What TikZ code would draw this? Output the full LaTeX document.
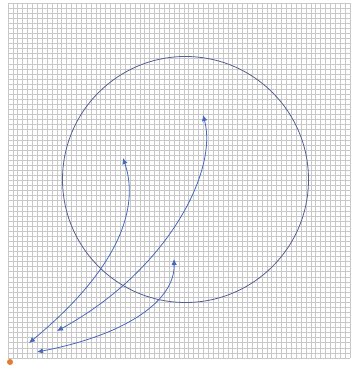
\documentclass[tikz,border=0pt]{standalone}
\usetikzlibrary{arrows.meta}
\definecolor{gridc}{RGB}{200,200,200}
\definecolor{arrc}{RGB}{70,105,190}
\definecolor{circc}{RGB}{85,95,150}
\definecolor{dotc}{RGB}{225,125,50}
\begin{document}
\begin{tikzpicture}[x=1pt,y=1pt,
  gridline/.style={draw=gridc,line width=0.7pt},
  curvearrow/.style={draw=arrc,line width=0.8pt,{Latex[length=6pt,width=5.5pt]}-{Latex[length=6pt,width=5.5pt]}},
  bigcircle/.style={draw=circc,line width=0.8pt}]
\useasboundingbox (0,0) rectangle (352,369);
\fill[white] (0,0) rectangle (352,369);
\foreach \i in {0,...,70} {
  \draw[gridline] ({8+\i*4.8857},11) -- ({8+\i*4.8857},366);
  \draw[gridline] (8,{11+\i*5.0714}) -- (350,{11+\i*5.0714});
}
\node[bigcircle,circle,minimum size=246pt,inner sep=0pt] (circ) at (185.5,189.5) {};
\node[circle,fill=dotc,inner sep=0pt,minimum size=6pt] (origin) at (10,7) {};
\coordinate (a1) at (123,211);
\coordinate (b1) at (29,26);
\coordinate (a2) at (203,254);
\coordinate (b2) at (57,38);
\coordinate (a3) at (174,110);
\coordinate (b3) at (37,17);
\draw[curvearrow] (a1) .. controls (137,170) and (130,110) .. (b1);
\draw[curvearrow] (a2) .. controls (218,200) and (170,100) .. (b2);
\draw[curvearrow] (a3) .. controls (175,70) and (130,35) .. (b3);
\end{tikzpicture}
\end{document}
